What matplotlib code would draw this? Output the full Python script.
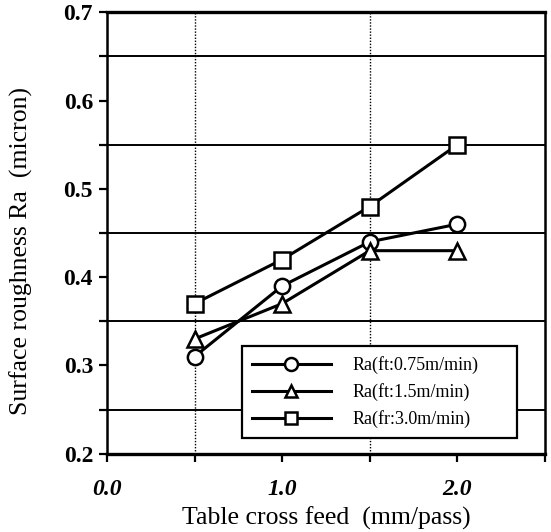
import matplotlib
matplotlib.use("Agg")
import matplotlib.pyplot as plt
import numpy as np

# cross feed (mm/pass)
feed = [0.5, 1.0, 1.5, 2.0]
ra_075 = [0.31, 0.39, 0.44, 0.46]
ra_15 = [0.33, 0.37, 0.43, 0.43]
ra_30 = [0.37, 0.42, 0.48, 0.55]
labels = ["Ra(ft:0.75m/min)", "Ra(ft:1.5m/min)", "Ra(fr:3.0m/min)"]
markers = ["o", "^", "s"]

plt.rcParams["font.family"] = ["Liberation Serif", "DejaVu Serif"]

fig = plt.figure(figsize=(5.51, 5.32), dpi=100, facecolor="white")
ax = fig.add_axes([0.194, 0.147, 0.795, 0.830])

# grid: solid horizontals at the half steps, dotted verticals at half steps
for y in [0.25, 0.35, 0.45, 0.55, 0.65]:
    ax.axhline(y, color="black", lw=1.4, zorder=1)
for x in [0.5, 1.5]:
    ax.axvline(x, color="black", lw=1.0, ls=(0, (1, 1.2)), zorder=1)

for vals, m, lab in zip([ra_075, ra_15, ra_30], markers, labels):
    ax.plot(feed, vals, color="black", lw=2.2, marker=m, markersize=11,
            markerfacecolor="white", markeredgecolor="black", markeredgewidth=1.8,
            label=lab, zorder=3)

ax.set_xlim(0, 2.5)
ax.set_ylim(0.2, 0.7)
ax.set_xticks(np.arange(0, 2.51, 0.5))
ax.set_xticklabels(["0.0", "", "1.0", "", "2.0", ""], fontsize=17, fontweight="bold", style="italic")
ax.set_yticks(np.arange(0.2, 0.701, 0.05))
ax.set_yticklabels(["0.2", "", "0.3", "", "0.4", "", "0.5", "", "0.6", "", "0.7"],
                   fontsize=17, fontweight="bold")
ax.tick_params(direction="out", length=6, width=1.6)
ax.tick_params(axis="y", pad=4)
ax.tick_params(axis="x", pad=12)

for s in ax.spines.values():
    s.set_linewidth(1.8)
ax.spines["bottom"].set_linewidth(2.4)
ax.spines["top"].set_linewidth(2.4)

ax.set_xlabel("Table cross feed  (mm/pass)", fontsize=18.5, labelpad=5)
ax.set_ylabel("Surface roughness Ra  (micron)", fontsize=18.5)
ax.yaxis.set_label_coords(-0.168, 0.46)

leg = ax.legend(loc="lower left", bbox_to_anchor=(0.308, 0.036, 0.628, 0.21), mode="expand",
                borderaxespad=0, fontsize=13, handlelength=4.4, frameon=True, fancybox=False,
                framealpha=1, edgecolor="black", borderpad=0.55, labelspacing=0.5,
                handletextpad=1.2, markerscale=0.85)
leg.get_frame().set_linewidth(1.6)

fig.savefig("out.png", dpi=100)
